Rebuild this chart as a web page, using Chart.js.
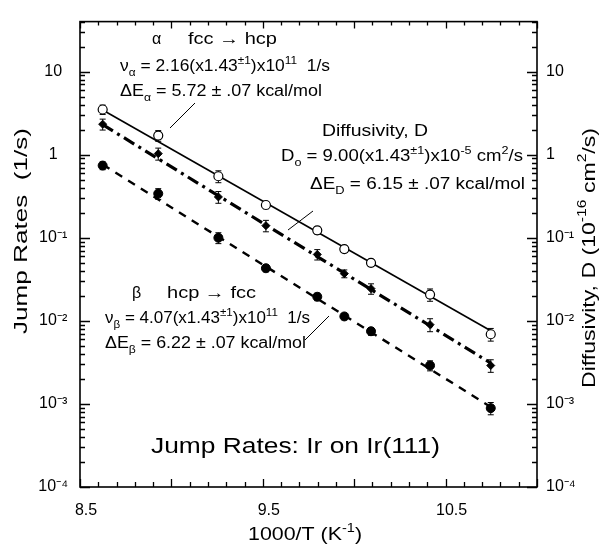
<!DOCTYPE html>
<html><head><meta charset="utf-8">
<script src="https://cdn.jsdelivr.net/npm/chart.js@4.4.1/dist/chart.umd.min.js"></script>
<style>html,body{margin:0;padding:0;background:#fff}canvas{display:block}</style>
</head><body>
<canvas id="c" width="608" height="544"></canvas>
<script>
// ---- data ----
const inverseTemp = [8.624, 8.928, 9.257, 9.517, 9.798, 9.946, 10.092, 10.415, 10.747];
const alphaRates  = [3.5, 1.70, 0.55, 0.248, 0.123, 0.073, 0.050, 0.0207, 0.0069];
const alphaErr    = [0.45, 0.25, 0.09, 0.025, 0.012, 0.006, 0.005, 0.0035, 0.0012];
const diffusivity = [2.33, 1.03, 0.31, 0.14, 0.063, 0.037, 0.0244, 0.0090, 0.0029];
const diffErr     = [0.35, 0.17, 0.05, 0.022, 0.009, 0.004, 0.0035, 0.0016, 0.0005];
const betaRates   = [0.74, 0.34, 0.10, 0.043, 0.0195, 0.0113, 0.0075, 0.0029, 0.00089];
const betaErr     = [0.08, 0.05, 0.015, 0.004, 0.002, 0.001, 0.0008, 0.0004, 0.00015];
const fitX      = [8.624, 10.747];
const alphaFit  = [3.45, 0.0076];
const diffFit   = [2.3, 0.0031];
const betaFit   = [0.76, 0.00092];
const xTickValues = [8.5, 9.5, 10.5];
const xTickLabels = ['8.5', '9.5', '10.5'];
const yTickValues = [1e-4, 1e-3, 1e-2, 1e-1, 1, 10];
const yTickLabels = ['10⁻⁴', '10⁻³', '10⁻²', '10⁻¹', '1', '10'];

const FONT = '"Liberation Sans", Arial, sans-serif';

const pts = (xs, ys) => xs.map((x, i) => ({x, y: ys[i]}));

function richWidth(ctx, segs, size) {
  let w = 0;
  for (const [t, k] of segs) {
    ctx.font = (k ? size * 0.68 : size) + 'px ' + FONT;
    w += ctx.measureText(t).width;
  }
  return w;
}
function drawRich(ctx, segs, x, y, size, align, targetW, rot) {
  const w = richWidth(ctx, segs, size);
  const sx = targetW ? targetW / w : 1;
  ctx.save();
  ctx.translate(x, y);
  if (rot) ctx.rotate(rot);
  ctx.scale(sx, 1);
  let cx = align === 'center' ? -w / 2 : 0;
  ctx.textBaseline = 'middle';
  ctx.textAlign = 'left';
  ctx.fillStyle = '#000';
  for (const [t, k] of segs) {
    const s = k ? size * 0.68 : size;
    ctx.font = s + 'px ' + FONT;
    const dy = k === 'sub' ? size * 0.4 : (k === 'sup' ? -size * 0.38 : 0);
    ctx.fillText(t, cx, dy);
    cx += ctx.measureText(t).width;
  }
  ctx.restore();
}

const errorBars = {
  id: 'errorBars',
  beforeDatasetsDraw(chart) {
    const ctx = chart.ctx;
    chart.data.datasets.forEach((ds, di) => {
      if (!ds.errors) return;
      const xs = chart.scales.x, ys = chart.scales[ds.yAxisID || 'y'];
      ctx.save();
      ctx.strokeStyle = '#000';
      ctx.lineWidth = 1;
      ds.data.forEach((p, i) => {
        const e = ds.errors[i];
        const px = xs.getPixelForValue(p.x);
        const y1 = ys.getPixelForValue(p.y + e);
        const y2 = ys.getPixelForValue(Math.max(p.y - e, 1e-6));
        ctx.beginPath();
        ctx.moveTo(px, y1); ctx.lineTo(px, y2);
        ctx.moveTo(px - 3, y1); ctx.lineTo(px + 3, y1);
        ctx.moveTo(px - 3, y2); ctx.lineTo(px + 3, y2);
        ctx.stroke();
      });
      ctx.restore();
    });
  }
};

const frameTicks = {
  id: 'frameTicks',
  afterDatasetsDraw(chart) {
    const ctx = chart.ctx, a = chart.chartArea;
    const xs = chart.scales.x, ys = chart.scales.y;
    ctx.save();
    ctx.strokeStyle = '#000';
    ctx.lineWidth = 1.3;
    ctx.beginPath();
    // x ticks every 0.1, longer every 0.5
    for (let k = 85; k <= 110; k++) {
      const px = Math.round(xs.getPixelForValue(k / 10)) + 0.5;
      const len = (k % 5 === 0) ? 8 : 5;
      ctx.moveTo(px, a.bottom); ctx.lineTo(px, a.bottom - len);
      ctx.moveTo(px, a.top); ctx.lineTo(px, a.top + len - 1);
    }
    // y ticks: decades + 2..9 minors
    for (let d = -4; d <= 1; d++) {
      for (let m = 1; m <= 9; m++) {
        const v = m * Math.pow(10, d);
        if (v > ys.max * 1.0001) continue;
        const py = Math.round(ys.getPixelForValue(v)) + 0.5;
        const len = m === 1 ? 10 : 5;
        ctx.moveTo(a.left, py); ctx.lineTo(a.left + len, py);
        ctx.moveTo(a.right, py); ctx.lineTo(a.right - len, py);
      }
    }
    ctx.stroke();
    ctx.lineWidth = 1.6;
    ctx.strokeRect(a.left, a.top, a.right - a.left, a.bottom - a.top);
    ctx.restore();
  }
};

const annotations = {
  id: 'annotations',
  afterDraw(chart) {
    const ctx = chart.ctx;
    // alpha block
    drawRich(ctx, [['α']], 152, 40, 16);
    drawRich(ctx, [['fcc → hcp']], 188, 40, 16, 'left', 89);
    drawRich(ctx, [['ν'], ['α', 'sub'], [' = 2.16(x1.43'], ['±1', 'sup'], [')x10'], ['11', 'sup'], ['  1/s']], 120, 66.7, 16, 'left', 210);
    drawRich(ctx, [['ΔE'], ['α', 'sub'], [' = 5.72 ± .07 kcal/mol']], 120, 91.7, 16, 'left', 202);
    // diffusivity block
    drawRich(ctx, [['Diffusivity, D']], 322, 131.7, 16, 'left', 106);
    drawRich(ctx, [['D'], ['o', 'sub'], [' = 9.00(x1.43'], ['±1', 'sup'], [')x10'], ['-5', 'sup'], [' cm'], ['2', 'sup'], ['/s']], 281, 156.7, 16, 'left', 242);
    drawRich(ctx, [['ΔE'], ['D', 'sub'], [' = 6.15 ± .07 kcal/mol']], 310, 184.3, 16, 'left', 215);
    // beta block
    drawRich(ctx, [['β']], 132, 293.7, 16);
    drawRich(ctx, [['hcp → fcc']], 167, 293.7, 16, 'left', 89);
    drawRich(ctx, [['ν'], ['β', 'sub'], [' = 4.07(x1.43'], ['±1', 'sup'], [')x10'], ['11', 'sup'], ['  1/s']], 105, 318.7, 16, 'left', 205);
    drawRich(ctx, [['ΔE'], ['β', 'sub'], [' = 6.22 ± .07 kcal/mol']], 105, 343.7, 16, 'left', 201);
    // title inside plot
    drawRich(ctx, [['Jump Rates: Ir on Ir(111)']], 151, 447, 22, 'left', 289);
    // axis titles
    drawRich(ctx, [['Jump Rates  (1/s)']], 22, 231, 19, 'center', 206, -Math.PI / 2);
    drawRich(ctx, [['Diffusivity, D (10'], ['-16', 'sup'], [' cm'], ['2', 'sup'], ['/s)']], 590, 258, 19, 'center', 260, -Math.PI / 2);
    drawRich(ctx, [['1000/T (K'], ['-1', 'sup'], [')']], 305, 535, 18, 'center', 114);
    // leader lines
    ctx.save();
    ctx.strokeStyle = '#000';
    ctx.lineWidth = 1;
    ctx.beginPath();
    ctx.moveTo(170, 128); ctx.lineTo(195, 103);
    ctx.moveTo(288, 230); ctx.lineTo(313, 211);
    ctx.moveTo(305, 340); ctx.lineTo(329, 316);
    ctx.stroke();
    ctx.restore();
  }
};

const tickFont = {family: FONT, size: 16};

new Chart(document.getElementById('c'), {
  type: 'scatter',
  data: {
    datasets: [
      {data: pts(fitX, alphaFit), showLine: true, borderColor: '#000', borderWidth: 1.6, pointRadius: 0, order: 5},
      {data: pts(fitX, diffFit), yAxisID: 'y2', showLine: true, borderColor: '#000', borderWidth: 3.2, borderDash: [12, 5, 3, 5], pointRadius: 0, order: 5},
      {data: pts(fitX, betaFit), showLine: true, borderColor: '#000', borderWidth: 2.4, borderDash: [8, 7], pointRadius: 0, order: 5},
      {data: pts(inverseTemp, alphaRates), errors: alphaErr, pointStyle: 'circle', pointRadius: 4.5, pointBackgroundColor: '#fff', pointBorderColor: '#000', pointBorderWidth: 1.2, order: 1},
      {data: pts(inverseTemp, diffusivity), errors: diffErr, yAxisID: 'y2', pointStyle: 'rectRot', pointRadius: 4, pointBackgroundColor: '#000', pointBorderColor: '#000', pointBorderWidth: 1, order: 1},
      {data: pts(inverseTemp, betaRates), errors: betaErr, pointStyle: 'circle', pointRadius: 4.5, pointBackgroundColor: '#000', pointBorderColor: '#000', pointBorderWidth: 1, order: 1}
    ]
  },
  options: {
    responsive: false,
    animation: false,
    layout: {padding: {top: 14, left: 0, right: 0, bottom: 0}},
    plugins: {legend: {display: false}, tooltip: {enabled: false}},
    scales: {
      x: {
        type: 'linear', min: 8.5, max: 11.0,
        afterBuildTicks: s => { s.ticks = xTickValues.map(v => ({value: v})); },
        afterFit: s => { s.height = 57; },
        ticks: {
          callback: v => { const i = xTickValues.indexOf(v); return i >= 0 ? xTickLabels[i] : ''; },
          font: tickFont, color: '#000', padding: 14, labelOffset: 6, maxRotation: 0
        },
        grid: {display: false, drawTicks: false},
        border: {display: false}
      },
      y: {
        type: 'logarithmic', position: 'left', min: 1e-4, max: 40,
        afterBuildTicks: s => { s.ticks = yTickValues.map(v => ({value: v})); },
        afterFit: s => { s.width = 80; },
        ticks: {
          callback: v => { const i = yTickValues.findIndex(t => Math.abs(t - v) / t < 1e-6); return i >= 0 ? yTickLabels[i] : ''; },
          font: tickFont, color: '#000', padding: 12, crossAlign: 'center'
        },
        grid: {display: false, drawTicks: false},
        border: {display: false}
      },
      y2: {
        type: 'logarithmic', position: 'right', min: 1e-4, max: 40,
        afterBuildTicks: s => { s.ticks = yTickValues.map(v => ({value: v})); },
        afterFit: s => { s.width = 71; },
        ticks: {
          callback: v => { const i = yTickValues.findIndex(t => Math.abs(t - v) / t < 1e-6); return i >= 0 ? yTickLabels[i] : ''; },
          font: tickFont, color: '#000', padding: 9
        },
        grid: {display: false, drawTicks: false},
        border: {display: false}
      }
    }
  },
  plugins: [errorBars, frameTicks, annotations]
});
</script>
</body></html>
